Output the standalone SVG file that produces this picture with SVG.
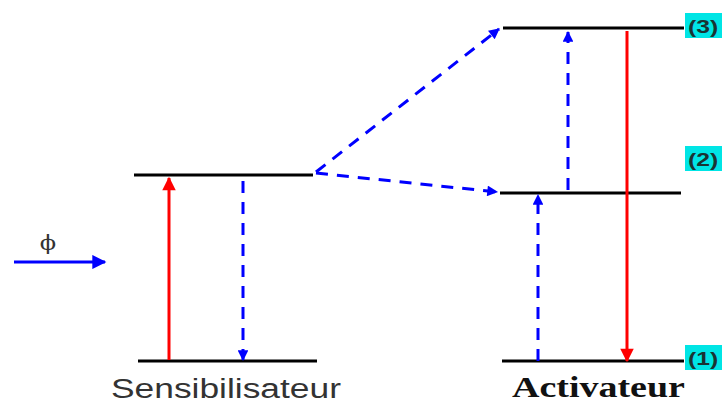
<svg xmlns="http://www.w3.org/2000/svg" width="722" height="406" viewBox="0 0 722 406">
<defs>
<marker id="ab" viewBox="0 0 10 10" refX="9" refY="5" markerWidth="4.5" markerHeight="3.6" orient="auto" markerUnits="strokeWidth"><path d="M0,0 L10,5 L0,10 z" fill="#0000ff"/></marker>
<marker id="ar" viewBox="0 0 10 10" refX="9" refY="5" markerWidth="6" markerHeight="4.5" orient="auto" markerUnits="strokeWidth"><path d="M0,0 L10,5 L0,10 z" fill="#ff0000"/></marker>
<marker id="aphi" viewBox="0 0 10 10" refX="9" refY="5" markerWidth="8.3" markerHeight="4.7" orient="auto" markerUnits="strokeWidth"><path d="M0,0 L10,5 L0,10 z" fill="#0000ff"/></marker>
</defs>
<style>
.lvl{stroke:#000;stroke-width:3;fill:none}
.red{stroke:#ff0000;stroke-width:3;fill:none;marker-end:url(#ar)}
.dash{stroke:#0000ff;stroke-width:3;fill:none;stroke-dasharray:12 9;marker-end:url(#ab)}
.lab{fill:#00e5e5}
.lt{font-family:"Liberation Sans",Arial,sans-serif;font-weight:bold;font-size:19px;fill:#1a3333}
</style>
<g id="sens-upper"><line class="lvl" x1="134" y1="175" x2="313" y2="175"/></g>
<g id="sens-lower"><line class="lvl" x1="138" y1="361" x2="317" y2="361"/></g>
<g id="act-3"><line class="lvl" x1="503" y1="28" x2="684" y2="28"/><rect class="lab" x="685" y="13" width="37" height="25"/><text class="lt" transform="translate(688,33) scale(1.3,1)">(3)</text></g>
<g id="act-2"><line class="lvl" x1="500" y1="193" x2="681" y2="193"/><rect class="lab" x="685" y="146" width="37" height="25"/><text class="lt" transform="translate(688,166) scale(1.3,1)">(2)</text></g>
<g id="act-1"><line class="lvl" x1="502" y1="361" x2="684" y2="361"/><rect class="lab" x="685" y="345" width="37" height="25"/><text class="lt" transform="translate(688,365) scale(1.3,1)">(1)</text></g>
<g id="label-sens"><text transform="translate(111,398) scale(1.31,1)" font-family="'Liberation Sans',Arial,sans-serif" font-size="27" fill="#333">Sensibilisateur</text></g>
<g id="label-act"><text transform="translate(512,397) scale(1.31,1)" font-family="'Liberation Serif','Times New Roman',serif" font-weight="bold" font-size="29" fill="#111">Activateur</text></g>
<g id="phi"><text transform="translate(48,250) scale(1.2,1)" text-anchor="middle" font-family="'DejaVu Serif',serif" font-size="20" fill="#333">ϕ</text></g>
<g id="connectors">
<line x1="14" y1="262" x2="105" y2="262" stroke="#0000ff" stroke-width="3" marker-end="url(#aphi)"/>
<line class="red" x1="169" y1="360" x2="169" y2="178"/>
<line class="dash" x1="243" y1="181" x2="243" y2="360"/>
<line class="dash" x1="316" y1="172" x2="499" y2="29"/>
<line class="dash" x1="316" y1="173" x2="497" y2="192"/>
<line class="dash" x1="538" y1="361" x2="538" y2="195"/>
<line class="dash" x1="568" y1="190" x2="568" y2="32"/>
<line class="red" x1="627" y1="31" x2="627" y2="361"/>
</g>
</svg>
